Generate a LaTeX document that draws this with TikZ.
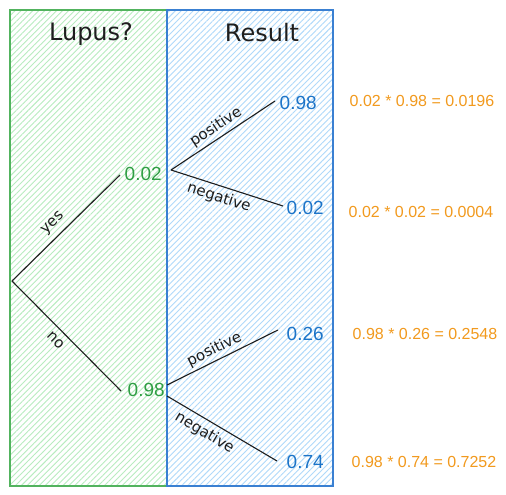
\documentclass[tikz,border=0pt]{standalone}
\usepackage{fontspec}
\setmainfont{Liberation Sans}
\newfontfamily\hand{DejaVu Sans}
\usetikzlibrary{patterns.meta}
\definecolor{gstroke}{HTML}{52B35E}
\definecolor{bstroke}{HTML}{3A80D2}
\definecolor{ghatch}{HTML}{B8ECC0}
\definecolor{bhatch}{HTML}{AFD9FA}
\definecolor{gtext}{HTML}{2F9E44}
\definecolor{btext}{HTML}{1C74C8}
\definecolor{otext}{HTML}{F29A1E}
\definecolor{ink}{HTML}{1E1E1E}
\tikzset{
  header/.style={font=\hand\fontsize{24}{28}\selectfont, text=ink},
  gnum/.style={font=\fontsize{19}{22}\selectfont, text=gtext, inner sep=0pt, anchor=west},
  bnum/.style={font=\fontsize{19}{22}\selectfont, text=btext, inner sep=0pt, anchor=west},
  calc/.style={font=\fontsize{16}{19}\selectfont, text=otext, inner sep=0pt},
  edge/.style={draw=ink, line width=1.1pt},
  lab/.style={font=\hand\fontsize{15}{17}\selectfont, text=ink, sloped, inner sep=0pt}
}
\begin{document}
\begin{tikzpicture}[x=1pt,y=-1pt]
\useasboundingbox (0,0) rectangle (506,495);
\fill[white] (0,0) rectangle (506,495);
% columns
\path[pattern={Lines[angle=45,distance=4.2pt,line width=0.9pt]}, pattern color=ghatch] (10,10) rectangle (167,486);
\path[pattern={Lines[angle=45,distance=4.2pt,line width=0.9pt]}, pattern color=bhatch] (167,10) rectangle (333,486);
\draw[gstroke, line width=1.2pt] (10,10) rectangle (167,486);
\draw[bstroke, line width=1.2pt] (167,10) rectangle (333,486);
% headers
\node[header] (h1) at (91,34) {Lupus?};
\node[header] (h2) at (262,33) {Result};
% tree nodes
\coordinate (root) at (12,281);
\node[gnum] (g1) at (124.5,174) {0.02};
\node[gnum] (g2) at (127.5,390) {0.98};
\coordinate (s1) at (171,170);
\coordinate (s2a) at (167,385);
\coordinate (s2b) at (167,396);
\node[bnum] (b1) at (279.5,103) {0.98};
\node[bnum] (b2) at (286.5,208) {0.02};
\node[bnum] (b3) at (286.5,334) {0.26};
\node[bnum] (b4) at (286.5,462) {0.74};
% edges
\draw[edge] (root) -- node[lab, pos=0.46, above=6pt] {yes} ([xshift=-4.5pt,yshift=-1pt]g1.west);
\draw[edge] (root) -- node[lab, pos=0.47, below=6pt] {no} ([xshift=-6.5pt,yshift=-1pt]g2.west);
\draw[edge] (s1) -- node[lab, pos=0.49, above=3pt] {positive} ([xshift=-4.5pt,yshift=2pt]b1.west);
\draw[edge] (s1) -- node[lab, pos=0.46, below=4pt] {negative} ([xshift=-3.5pt,yshift=2pt]b2.west);
\draw[edge] (s2a) -- node[lab, pos=0.47, above=3pt] {positive} ([xshift=-8.5pt,yshift=4pt]b3.west);
\draw[edge] (s2b) -- node[lab, pos=0.40, below=5pt] {negative} ([xshift=-9.5pt,yshift=1pt]b4.west);
% calculations
\node[calc] (c1) at (422,101) {0.02 * 0.98 = 0.0196};
\node[calc] (c2) at (421,212) {0.02 * 0.02 = 0.0004};
\node[calc] (c3) at (425,334) {0.98 * 0.26 = 0.2548};
\node[calc] (c4) at (424,462) {0.98 * 0.74 = 0.7252};
\end{tikzpicture}
\end{document}
